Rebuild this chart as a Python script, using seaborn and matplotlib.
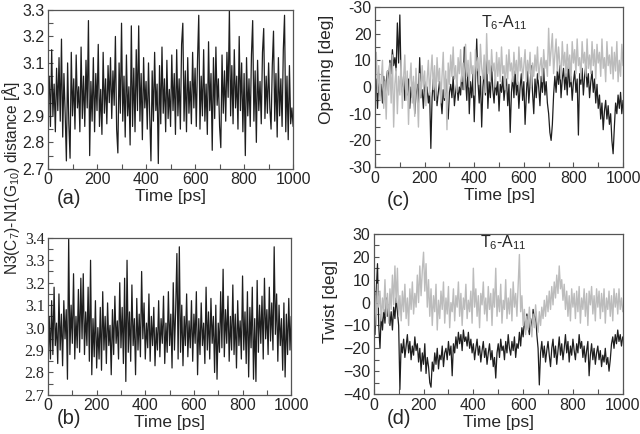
import numpy as np
import pandas as pd
import matplotlib
matplotlib.use('Agg')
import matplotlib.pyplot as plt
import seaborn as sns
from matplotlib.ticker import MultipleLocator, FixedLocator, FormatStrFormatter

sns.set_style('ticks')
plt.rcParams['font.family'] = ['Liberation Sans', 'DejaVu Sans']
plt.rcParams['font.size'] = 11
plt.rcParams['mathtext.fontset'] = 'custom'
plt.rcParams['mathtext.rm'] = 'Liberation Sans'
plt.rcParams['mathtext.it'] = 'Liberation Sans'

dist_a = [2.95, 3.05, 2.86, 3.15, 2.90, 3.02, 2.84, 3.08, 2.92, 3.12, 2.88, 3.19, 2.82, 3.06, 2.91, 2.73,
          3.10, 2.87, 2.74, 3.14, 2.90, 3.04, 2.85, 3.13, 2.93, 3.01, 2.84, 3.16, 2.89, 3.05, 2.86, 3.11,
          2.93, 3.26, 2.75, 3.03, 2.88, 3.12, 2.84, 3.06, 2.92, 3.17, 2.86, 3.00, 2.83, 3.14, 2.91, 3.04,
          2.87, 3.09, 2.95, 3.12, 2.89, 3.07, 2.94, 3.20, 2.85, 2.76, 3.10, 2.91, 3.25, 2.88, 3.05, 2.82,
          3.13, 2.90, 3.01, 2.79, 3.24, 2.86, 3.08, 2.84, 3.15, 2.92, 3.24, 2.88, 3.06, 2.81, 3.12, 2.93,
          3.03, 2.85, 3.10, 2.90, 2.73, 3.07, 2.88, 3.14, 2.92, 3.02, 2.72, 3.09, 2.87, 3.16, 2.91, 3.04,
          2.84, 3.11, 2.89, 3.00, 2.86, 3.13, 2.92, 3.06, 2.83, 3.15, 2.90, 3.04, 2.85, 3.17, 3.25, 2.88,
          3.07, 2.84, 3.12, 2.91, 3.03, 2.87, 3.14, 2.93, 3.08, 2.86, 3.11, 3.28, 2.85, 3.05, 2.90, 3.15,
          2.88, 3.02, 2.83, 3.18, 2.92, 3.06, 2.77, 3.12, 2.89, 3.16, 2.94, 3.04, 2.86, 2.78, 3.13, 2.91,
          3.07, 2.88, 3.14, 2.97, 3.30, 2.90, 3.09, 2.87, 3.15, 2.93, 3.05, 2.85, 3.20, 2.92, 3.10, 2.84,
          3.06, 2.75, 3.12, 2.90, 3.04, 2.86, 3.13, 3.26, 2.88, 3.07, 2.80, 3.11, 2.92, 3.03, 2.87, 3.14,
          3.23, 2.89, 3.05, 2.91, 3.10, 2.93, 2.85, 3.09, 3.22, 2.88, 3.06, 2.82, 3.12, 2.90, 3.04, 2.86,
          3.15, 3.28, 2.84, 3.05, 2.81, 3.09, 2.87, 2.93, 2.86]

dist_b = [2.80, 3.05, 2.86, 3.12, 2.88, 3.18, 2.92, 3.02, 2.84, 3.15, 2.90, 3.06, 2.83, 3.12, 2.95, 3.08,
          2.77, 3.40, 2.88, 3.10, 2.93, 3.24, 2.86, 3.05, 2.91, 3.17, 2.89, 3.22, 2.95, 3.24, 2.88, 3.07,
          2.92, 3.18, 2.85, 3.30, 2.79, 3.04, 2.87, 3.12, 2.82, 3.00, 2.86, 3.09, 2.81, 3.16, 2.90, 3.05,
          2.84, 3.11, 2.92, 3.01, 2.79, 3.08, 2.88, 3.14, 2.93, 3.03, 2.86, 3.20, 2.91, 3.09, 2.84, 3.22,
          2.76, 3.30, 2.89, 3.07, 2.85, 3.19, 2.92, 3.04, 2.79, 3.13, 2.90, 3.06, 2.87, 3.25, 2.95, 3.11,
          2.86, 3.02, 2.91, 3.15, 2.85, 3.05, 2.92, 3.09, 2.83, 3.00, 2.90, 3.12, 2.87, 3.04, 2.93, 3.14,
          2.84, 3.02, 2.89, 3.16, 2.92, 3.06, 2.82, 3.20, 2.90, 3.08, 3.33, 2.86, 3.36, 2.89, 3.10, 2.83,
          3.05, 2.92, 3.15, 2.87, 3.03, 2.91, 3.12, 2.85, 3.06, 2.93, 3.16, 2.79, 3.04, 2.88, 3.11, 2.92,
          3.02, 2.84, 3.18, 2.90, 3.07, 2.86, 3.13, 2.93, 3.05, 2.80, 3.10, 2.77, 3.02, 2.89, 3.16, 2.91,
          3.26, 2.87, 3.08, 2.93, 3.14, 2.85, 3.05, 2.90, 3.19, 2.88, 3.06, 2.82, 3.12, 2.92, 3.03, 2.86,
          3.23, 2.90, 3.07, 2.84, 3.16, 2.78, 3.09, 2.91, 3.18, 2.77, 3.04, 2.76, 3.21, 2.89, 3.10, 2.93,
          3.14, 2.86, 3.22, 2.95, 3.08, 2.88, 3.18, 2.94, 3.11, 2.90, 3.36, 2.97, 3.15, 2.85, 3.10, 2.92,
          3.04, 2.81, 3.11, 2.78, 3.06, 2.88, 3.13, 2.90, 3.05]

open_dark = [-2, 3, -8, 5, -3, 1, -6, 4, -4, 2, 6, 3, 10, 5, 14, 8, 11, 6, 24, 9, 27, 3, -2, 4, -5, 1,
             -3, 3, -8, 0, -4, 2, -10, -3, 1, -6, 11, -4, -1, -8, 2, -3, 0, -6, -2, -23, -4, 3, -5, 1,
             -7, -2, 2, -4, -10, -1, -5, 3, -6, -12, -2, 1, -4, 4, -7, -2, 2, -5, 0, -3, 6, -1, 15, 3,
             -5, 8, -10, 2, -4, 5, -13, 3, 18, 2, -6, 4, -15, 0, 6, -3, 11, -8, 2, -4, 8, -1, -6, 3, -3,
             2, -9, 1, -2, 4, -5, 0, 3, -7, 1, -17, -2, 4, -4, 6, -3, 2, -8, 0, 5, -5, 2, -14, -3, 6,
             -6, 1, 8, -2, -10, 3, -4, 5, 0, -7, 4, -2, 7, -3, 2, -6, -10, -17, -20, -14, -3, 4, -2, 6,
             1, 8, -4, 3, 7, -1, 5, -3, 9, 0, 4, -5, 2, 6, -2, 3, -18, 5, 1, 7, -3, 4, 8, 0, 5, -4, 2,
             6, -2, 3, -6, 1, -8, -3, -12, -6, -16, -9, -5, -12, -7, -14, -10, -20, -25, -15, -6, -10,
             -3, -8, -2, -10, -5]

open_light = [5, 13, -2, 8, -5, 3, 10, -8, 2, -12, 6, -3, 9, -6, 12, -15, 1, 7, -10, 4, -3, 10, -8, 3,
              12, -5, 6, -14, 2, 9, -6, 4, -11, 7, -2, -15, 5, -4, 8, 0, 6, -7, 3, 10, -3, 5, 12, -1,
              8, -5, 11, 2, 7, -6, 4, 13, -4, 6, -16, 9, 1, 12, 4, 15, 3, 8, -2, 11, 5, 14, 2, 9, -1,
              16, 4, 10, 0, 13, 5, 8, -3, 14, 6, 11, 1, 16, 7, 3, 12, -2, 20, 5, 10, 2, 14, 6, 9, 0,
              13, 4, 11, 2, 15, 5, 8, -1, 12, 3, 14, 6, 9, 2, 13, 5, 10, 1, 15, 6, 11, 3, 8, 14, 2, 10,
              5, 13, 0, 9, 4, 12, 6, 15, 3, 8, 11, 2, 14, 7, 10, 4, 22, 8, 14, 20, 5, 12, 18, 6, 15, 9,
              3, 17, 8, 13, 4, 16, 7, 12, 2, 17, 9, 14, 5, 18, 8, 11, 3, 17, 9, 13, 4, 18, 7, 12, 5,
              17, 8, 14, 3, 16, 9, 13, 4, 18, 7, 11, 2, 17, 8, 12, 5, 15, 3, 13, 6, 17, 2, 10, 4, 16, 8]

twist_dark = [-8, -14, 5, 17, -10, -20, -5, -12, -3, -9, 2, -6, -1, -10, -4, -12, -2, -7, 2, -4, -10,
              -38, -18, -22, -16, -24, -19, -14, -22, -17, -25, -19, -23, -15, -21, -18, -26, -20, -30,
              -22, -27, -18, -31, -24, -28, -35, -37, -26, -30, -22, -27, -20, -29, -23, -25, -19, -28,
              -22, -20, -25, -17, -23, -19, -32, -18, -22, -15, -20, -13, -18, -14, -21, -12, -17, -15,
              -19, -13, -20, -16, -22, -18, -25, -20, -16, -23, -19, -26, -21, -17, -24, -20, -27, -22,
              -18, -25, -21, -28, -24, -33, -22, -18, -24, -16, -21, -19, -25, -17, -22, -14, -20, -23,
              -17, -21, -15, -24, -18, -20, -13, -19, -11, -15, -8, -12, -5, -10, -14, -7, -12, -3, -9,
              -4, -14, -20, -36, -22, -17, -24, -19, -26, -21, -17, -23, -28, -20, -16, -24, -19, -27,
              -21, -15, -23, -18, -25, -20, -14, -22, -17, -26, -19, -23, -16, -21, -25, -18, -22, -14,
              -20, -17, -24, -19, -26, -21, -17, -32, -23, -18, -25, -20, -27, -22, -19, -25, -21, -28,
              -23, -26, -20, -27, -24, -30, -25, -18, -15, -20, -14, -18, -12, -17, -14, -19, -15]

twist_light = [-5, 3, -10, 8, -2, 5, -8, 2, -4, 10, -6, 4, -9, 6, -3, 12, -1, 16, 0, 15, -6, 3, -8, 5,
               -4, 8, -7, 2, -10, 6, -3, 9, -5, 4, -2, 12, 0, 16, 3, 14, 22, 5, 17, -2, 10, -6, 6, -10,
               3, -4, 8, -12, 1, -7, 5, -3, 9, -9, 2, -5, 7, -11, 0, -4, 6, -8, 3, -2, 9, -6, 4, -10, 2,
               -3, 8, -7, 1, -4, 5, -9, 15, -2, 6, -6, 3, -11, 4, -1, 9, -5, 2, -8, 7, -3, 4, -10, 6, -2,
               15, -6, 3, -4, 8, -9, 1, -3, 10, -7, 2, -5, 6, -8, 9, -2, 4, -6, 7, 21, -4, 3, -10, -3,
               -14, -6, -12, -2, -9, -15, -5, -11, -1, -8, -13, -4, -10, -2, -7, 1, -6, 3, -4, 5, -3, 7,
               -1, 9, 2, 12, 4, 16, 6, 10, 1, 8, -3, 5, -6, 3, -8, 6, -2, 4, -7, 5, -4, 7, -9, 2, -3, 6,
               -6, 4, -10, 5, -1, 7, -5, 3, -8, 6, -2, 5, -7, 4, -4, 6, -9, 2, -3, 5, -6, 3, -8, 6, -2,
               4, -5, 6, -3, 2, -4]

dark = '#1e1e1e'
light = '#bcbcbc'
frame = '#555555'


def time_of(values):
    return np.linspace(0, 1000, len(values))


def style_axis(ax, ylim, ymajor, yminor):
    ax.set_xlim(0, 1000)
    ax.set_ylim(*ylim)
    ax.xaxis.set_major_locator(MultipleLocator(200))
    ax.xaxis.set_minor_locator(MultipleLocator(100))
    ax.yaxis.set_major_locator(MultipleLocator(ymajor))
    ax.yaxis.set_minor_locator(MultipleLocator(yminor))
    ax.tick_params(which='both', direction='in', length=3.5, width=0.8,
                   color=frame, labelsize=11.5, pad=2.5)
    for sp in ax.spines.values():
        sp.set_color(frame)
        sp.set_linewidth(0.9)
    ax.set_xlabel('Time [ps]', fontsize=12.5, labelpad=1.5)
    ax.set_ylabel('')


fig = plt.figure(figsize=(6.4, 4.34), dpi=100)
ax_a = fig.add_axes([0.075, 0.611, 0.383, 0.366])
ax_b = fig.add_axes([0.075, 0.090, 0.380, 0.362])
ax_c = fig.add_axes([0.586, 0.615, 0.3875, 0.369])
ax_d = fig.add_axes([0.584, 0.092, 0.389, 0.369])

sns.lineplot(x=time_of(dist_a), y=dist_a, ax=ax_a, color=dark, linewidth=0.9)
style_axis(ax_a, (2.7, 3.3), 0.1, 0.05)
ax_a.yaxis.set_major_formatter(FormatStrFormatter('%.1f'))

sns.lineplot(x=time_of(dist_b), y=dist_b, ax=ax_b, color=dark, linewidth=0.9)
style_axis(ax_b, (2.7, 3.4), 0.1, 0.05)
ax_b.yaxis.set_major_formatter(FormatStrFormatter('%.1f'))
for lab in ax_b.get_yticklabels():
    lab.set_family('Liberation Serif')

sns.lineplot(x=time_of(open_dark), y=open_dark, ax=ax_c, color=dark, linewidth=0.9)
sns.lineplot(x=time_of(open_light), y=open_light, ax=ax_c, color=light, linewidth=1.0)
style_axis(ax_c, (-30, 30), 10, 5)
open_ticks = [-30, -20, -10, 0, 10, 20, 30]
ax_c.yaxis.set_major_locator(FixedLocator(open_ticks))
ax_c.set_yticklabels(['-30', '-20', '-10', '0', '10', '20', '-30'])
ax_c.set_ylabel('Opening [deg]', fontsize=12.5)
ax_c.yaxis.set_label_coords(-0.165, 0.61)
ax_c.text(0.52, 0.905, r'T$_\mathregular{6}$-A$_\mathregular{11}$', transform=ax_c.transAxes,
          ha='center', va='center', fontsize=11.5)

sns.lineplot(x=time_of(twist_dark), y=twist_dark, ax=ax_d, color=dark, linewidth=0.9)
sns.lineplot(x=time_of(twist_light), y=twist_light, ax=ax_d, color=light, linewidth=1.0)
style_axis(ax_d, (-40, 30), 10, 5)
ax_d.set_ylabel('Twist [deg]', fontsize=12.5)
ax_d.yaxis.set_label_coords(-0.145, 0.575)
ax_d.text(0.52, 0.944, r'T$_\mathregular{6}$-A$_\mathregular{11}$', transform=ax_d.transAxes,
          ha='center', va='center', fontsize=11.5)

fig.text(0.017, 0.591, r'N3(C$_\mathregular{7}$)-N1(G$_\mathregular{10}$) distance [Å]',
         rotation=90, ha='center', va='center', fontsize=11.2)

for lbl, (x, y) in zip(['(a)', '(b)', '(c)', '(d)'],
                       [(69, 198), (69, 418), (398, 201), (399, 418)]):
    fig.text(x / 640, 1 - y / 434, lbl, ha='center', va='center', fontsize=14.5)

fig.savefig('out.png', dpi=100)
